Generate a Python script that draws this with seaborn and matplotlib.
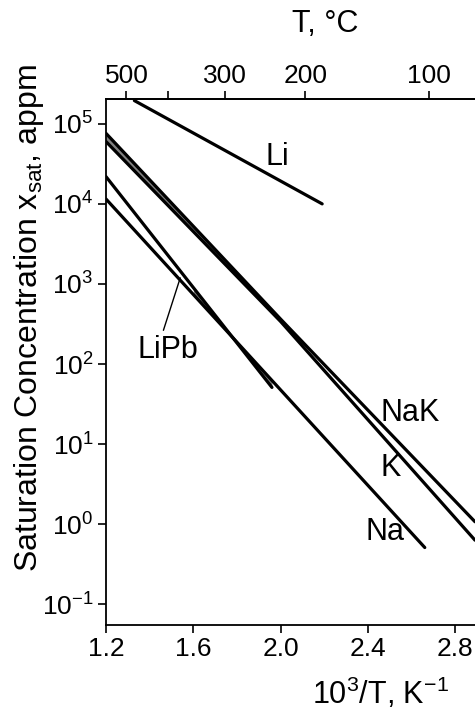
import numpy as np
import pandas as pd
import matplotlib
matplotlib.use("Agg")
import matplotlib.pyplot as plt
import seaborn as sns

# ---- data ----
li_x = [1.33, 2.19]
li_y = [195000, 10000]
nak_x = [1.2, 2.0, 2.89]
nak_y = [76000, 363, 1.07]
k_x = [1.2, 2.0, 2.89]
k_y = [60000, 339, 0.63]
lipb_x = [1.2, 1.96]
lipb_y = [21900, 51]
na_x = [1.2, 2.66]
na_y = [11500, 0.51]

bottom_ticks = [1.2, 1.6, 2.0, 2.4, 2.8]
bottom_labels = ["1.2", "1.6", "2.0", "2.4", "2.8"]
y_exps = [-1, 0, 1, 2, 3, 4, 5]
top_T = [500, 300, 200, 100]
top_T_minor = [400]

sns.set_style("ticks")
FONT = "Liberation Sans"
plt.rcParams["font.family"] = [FONT, "DejaVu Sans"]
plt.rcParams["mathtext.fontset"] = "custom"
plt.rcParams["mathtext.rm"] = FONT
plt.rcParams["mathtext.it"] = FONT
plt.rcParams["mathtext.bf"] = FONT
plt.rcParams["mathtext.default"] = "regular"
for k in ["text.color", "axes.labelcolor", "xtick.color", "ytick.color", "axes.edgecolor"]:
    plt.rcParams[k] = "black"

fig = plt.figure(figsize=(4.75, 7.17), dpi=100)
ax = fig.add_axes([106 / 475, 1 - 625 / 717, 1 - 106 / 475, (625 - 99) / 717])

frames = []
for name, xs, ys in [("Li", li_x, li_y), ("NaK", nak_x, nak_y), ("K", k_x, k_y),
                     ("LiPb", lipb_x, lipb_y), ("Na", na_x, na_y)]:
    frames.append(pd.DataFrame({"x": xs, "y": ys, "s": name}))
df = pd.concat(frames, ignore_index=True)

ax.set_yscale("log")

# gray bands where lines run together
def logi(x, xs, ys):
    return 10 ** np.interp(x, xs, np.log10(ys))

xb = np.linspace(1.2, 2.0, 30)
ax.fill_between(xb, logi(xb, nak_x, nak_y), logi(xb, k_x, k_y), color="0.5", lw=0)
xb2 = np.linspace(1.6, 1.96, 30)
ax.fill_between(xb2, logi(xb2, lipb_x, lipb_y), logi(xb2, na_x, na_y), color="0.5", lw=0)

sns.lineplot(data=df, x="x", y="y", units="s", estimator=None, color="black",
             linewidth=2.3, ax=ax, legend=False, sort=False)

ax.set_xlim(1.2, 2.89)
ax.set_ylim(10 ** -1.26, 10 ** 5.31)
ax.set_xticks(bottom_ticks)
ax.set_xticklabels(bottom_labels)
ax.set_yticks([10.0 ** e for e in y_exps])
ax.set_yticklabels([r"$10^{%d}$" % e for e in y_exps])
ax.yaxis.set_minor_locator(matplotlib.ticker.NullLocator())
ax.tick_params(axis="both", labelsize=19, length=6, width=1.2, colors="black", pad=3)
ax.set_xlabel("")
ax.set_ylabel("")
for s in ["left", "bottom", "top"]:
    ax.spines[s].set_linewidth(1.3)
    ax.spines[s].set_color("black")
ax.spines["right"].set_visible(False)
ax.spines["top"].set_visible(True)

# top temperature axis
ax2 = ax.twiny()
ax2.set_xlim(ax.get_xlim())
ax2.set_xticks([1000 / (t + 273.15) for t in top_T])
ax2.set_xticklabels([str(t) for t in top_T])
ax2.set_xticks([1000 / (t + 273.15) for t in top_T_minor], minor=True)
ax2.tick_params(axis="x", which="both", labelsize=19, length=6, width=1.2, pad=2)
for s in ["left", "right", "bottom"]:
    ax2.spines[s].set_visible(False)
ax2.spines["top"].set_linewidth(1.3)

# curve labels
lab_kw = dict(fontsize=22, ha="center", va="center")
ax.text(1.984, 39000, "Li", **lab_kw)
ax.text(2.594, 24.5, "NaK", **lab_kw)
ax.text(2.503, 5.0, "K", **lab_kw)
ax.text(2.48, 0.79, "Na", **lab_kw)
ax.annotate("LiPb", xy=(1.54, 1190), xytext=(1.484, 150), fontsize=22,
            ha="center", va="center",
            arrowprops=dict(arrowstyle="-", color="black", lw=1.0,
                            relpos=(0.4, 1.0), shrinkA=1, shrinkB=0))

# axis titles
fig.text(325 / 475, 1 - 24 / 717, "T, °C", fontsize=22, ha="center", va="center")
fig.text(380 / 475, 1 - 693 / 717, r"$10^{3}$/T, K$^{-1}$", fontsize=22,
         ha="center", va="center")
fig.text(29 / 475, 1 - 318 / 717, r"Saturation Concentration x$_{sat}$, appm",
         fontsize=23, ha="center", va="center", rotation=90)

fig.savefig("out.png", dpi=100)
